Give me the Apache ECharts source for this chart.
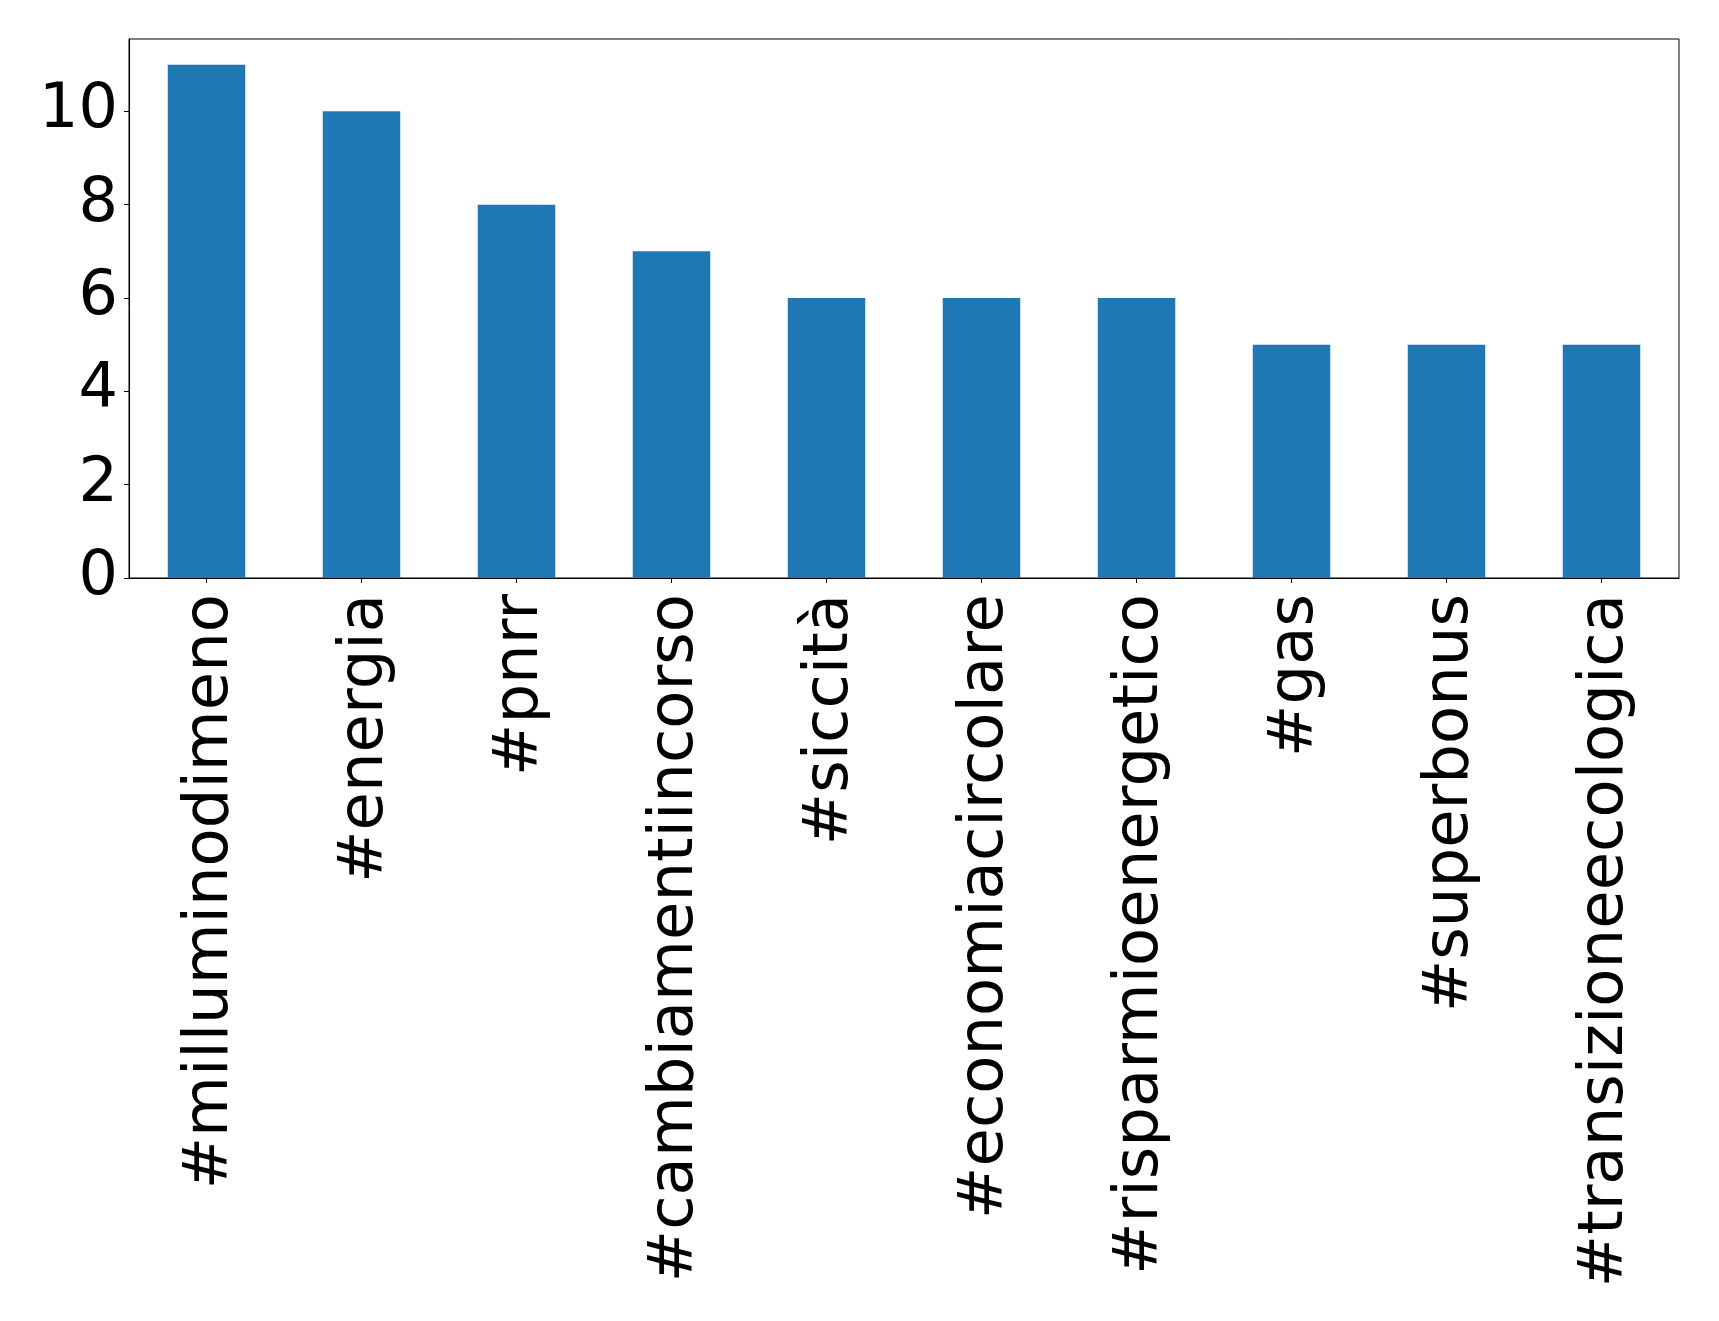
<!DOCTYPE html>
<html>
<head>
<meta charset="utf-8">
<script src="https://cdn.jsdelivr.net/npm/echarts@6/dist/echarts.min.js"></script>
<style>html,body{margin:0;padding:0;background:#fff}#c{width:1719px;height:1321px}</style>
</head>
<body>
<div id="c"></div>
<script>
const categories = ['#milluminodimeno','#energia','#pnrr','#cambiamentiincorso','#siccità','#economiacircolare','#risparmioenergetico','#gas','#superbonus','#transizioneecologica'];
const values = [11,10,8,7,6,6,6,5,5,5];
const yTicks = [0,2,4,6,8,10];

const chart = echarts.init(document.getElementById('c'), null, {renderer:'canvas'});
chart.setOption({
  animation:false,
  backgroundColor:'#fff',
  grid:{left:129,top:39,right:40,bottom:743,show:true,borderColor:'#000',borderWidth:1,containLabel:false},
  xAxis:{
    type:'category',
    data:categories,
    boundaryGap:true,
    axisLine:{show:true,lineStyle:{color:'#000',width:1}},
    axisTick:{show:true,alignWithLabel:true,length:5,lineStyle:{color:'#000'}},
    axisLabel:{rotate:90,margin:16,color:'#000',fontSize:62.5,fontFamily:'DejaVu Sans',interval:0,
      verticalAlign:'top',lineHeight:8}
  },
  yAxis:{
    type:'value',
    min:0,max:11.55,interval:2,
    splitLine:{show:false},
    axisLine:{show:true,lineStyle:{color:'#000',width:1}},
    axisTick:{show:true,length:5,lineStyle:{color:'#000'}},
    axisLabel:{margin:11,color:'#000',fontSize:62,fontFamily:'DejaVu Sans',
      formatter:function(v){return yTicks.indexOf(v)>=0?String(v):'';},showMaxLabel:false}
  },
  series:[{type:'bar',data:values,barWidth:'50%',itemStyle:{color:'#1f77b4'}}]
});
</script>
</body>
</html>
